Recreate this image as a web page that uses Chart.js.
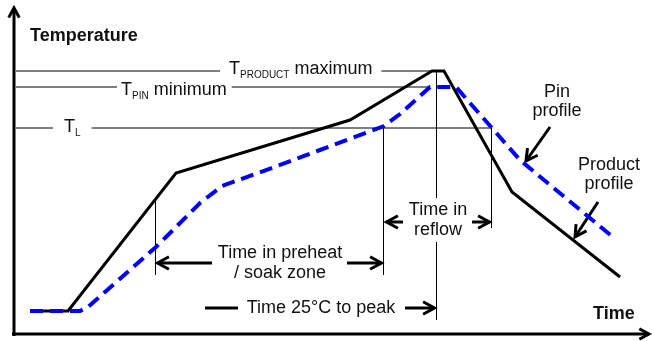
<!DOCTYPE html>
<html>
<head>
<meta charset="utf-8">
<script src="https://cdn.jsdelivr.net/npm/chart.js@4.4.0/dist/chart.umd.min.js"></script>
<style>
  body { margin: 0; background: #fff; }
  canvas { display: block; }
</style>
</head>
<body>
<canvas id="chart" width="652" height="341"></canvas>
<script>
// product profile (time, temperature)
const productTime = [8, 27, 81, 168, 209, 215, 249, 303];
const productTemp = [25, 25, 163, 216, 265, 265, 144, 59];

// pin profile (time, temperature)
const pinTime = [8, 33, 37, 71, 93, 104, 122, 153, 185, 193, 208, 221, 253, 300];
const pinTemp = [25, 25, 29, 89, 133, 150, 163, 186, 210, 222, 249, 249, 176, 98];

// reference temperatures
const tProductMax = 265;
const tPinMin = 249;
const tLiquidus = 208;

// zone boundaries (time)
const preheatStart = 70.5;
const preheatEnd = 184.5;
const peakTime = 211;
const reflowEnd = 238.5;

const FONT = "'Liberation Sans', Arial, sans-serif";

function toPoints(xs, ys) {
  return xs.map((t, i) => ({ x: t, y: ys[i] }));
}

// temperature of a profile at a given time
function interp(xs, ys, t) {
  for (let i = 1; i < xs.length; i++) {
    if (t <= xs[i]) {
      const f = (t - xs[i - 1]) / (xs[i] - xs[i - 1]);
      return ys[i - 1] + f * (ys[i] - ys[i - 1]);
    }
  }
  return ys[ys.length - 1];
}

function line(ctx, x1, y1, x2, y2, w) {
  ctx.lineWidth = w;
  ctx.beginPath();
  ctx.moveTo(x1, y1);
  ctx.lineTo(x2, y2);
  ctx.stroke();
}

function arrow(ctx, x1, y1, x2, y2, w = 3, len = 13, spread = 0.5) {
  line(ctx, x1, y1, x2, y2, w);
  const a = Math.atan2(y2 - y1, x2 - x1);
  ctx.lineWidth = w;
  ctx.beginPath();
  ctx.moveTo(x2 - len * Math.cos(a - spread), y2 - len * Math.sin(a - spread));
  ctx.lineTo(x2, y2);
  ctx.lineTo(x2 - len * Math.cos(a + spread), y2 - len * Math.sin(a + spread));
  ctx.stroke();
}

// "T" with subscript, returns end x
function tLabel(ctx, x, base, sub, rest) {
  ctx.textAlign = "left";
  ctx.font = "18px " + FONT;
  ctx.fillText("T", x, base);
  let cx = x + ctx.measureText("T").width;
  ctx.font = "10px " + FONT;
  ctx.fillText(sub, cx, base + 4);
  cx += ctx.measureText(sub).width;
  if (rest) {
    ctx.font = "18px " + FONT;
    ctx.fillText(rest, cx, base);
    cx += ctx.measureText(rest).width;
  }
  return cx;
}

const annotations = {
  id: "annotations",
  beforeDatasetsDraw(chart) {
    const { ctx, scales: { x, y }, chartArea } = chart;
    const x0 = chartArea.left;
    const yb = chartArea.bottom;
    ctx.save();
    ctx.strokeStyle = "#000";
    ctx.fillStyle = "#111";
    ctx.lineCap = "butt";

    // axes
    arrow(ctx, x0, yb + 2, x0, 8, 3, 11, 0.5);
    arrow(ctx, x0 - 2, yb, 649, yb, 3, 11, 0.5);

    // horizontal reference lines with labels
    const yMax = y.getPixelForValue(tProductMax);
    let end = tLabel(ctx, 229, yMax + 3, "PRODUCT", " maximum");
    line(ctx, x0 + 2, yMax, 220, yMax, 1);
    line(ctx, end + 9, yMax, x.getPixelForValue(productTime[4]), yMax, 1);

    const yPin = y.getPixelForValue(tPinMin);
    end = tLabel(ctx, 121, yPin + 8, "PIN", " minimum");
    line(ctx, x0 + 2, yPin, 117, yPin, 1);
    line(ctx, end + 5, yPin, x.getPixelForValue(pinTime[10]), yPin, 1);

    const yL = y.getPixelForValue(tLiquidus);
    end = tLabel(ctx, 64, yL + 4, "L", "");
    line(ctx, x0 + 2, yL, 53, yL, 1);
    line(ctx, end + 11, yL, x.getPixelForValue(reflowEnd), yL, 1);

    // vertical zone markers
    const xPs = Math.round(x.getPixelForValue(preheatStart)) + 0.5;
    const xPe = Math.round(x.getPixelForValue(preheatEnd)) + 0.5;
    const xPk = Math.round(x.getPixelForValue(peakTime)) + 0.5;
    const xRe = Math.round(x.getPixelForValue(reflowEnd)) + 0.5;
    const yPreheat = 263, yReflow = 222, yPeak = 308;
    line(ctx, xPs, y.getPixelForValue(interp(productTime, productTemp, preheatStart)), xPs, yPreheat + 12, 1);
    line(ctx, xPe, yL, xPe, yPreheat + 12, 1);
    line(ctx, xPk, yMax, xPk, yReflow - 24, 1);
    line(ctx, xPk, yReflow + 20, xPk, yPeak + 12, 1);
    line(ctx, xRe, yL, xRe, yReflow + 6, 1);

    // zone arrows
    arrow(ctx, 212, yPreheat, xPs + 2, yPreheat);
    arrow(ctx, 347, yPreheat, xPe - 2, yPreheat);
    arrow(ctx, 403, yReflow, xPe + 3, yReflow);
    arrow(ctx, 472, yReflow, xRe - 2, yReflow);
    line(ctx, 205, yPeak, 238, yPeak, 3);
    arrow(ctx, 405, yPeak, xPk - 2, yPeak);

    // callout arrows
    arrow(ctx, 550, 127, 526, 161);
    arrow(ctx, 598, 202, 575, 237);

    // texts
    ctx.font = "18px " + FONT;
    ctx.textAlign = "center";
    ctx.fillText("Time in preheat", 280, 258);
    ctx.fillText("/ soak zone", 280, 278);
    ctx.fillText("Time 25°C to peak", 321, 313);
    ctx.fillText("Time in", 438, 215);
    ctx.fillText("reflow", 438, 235);
    ctx.fillText("Pin", 557, 97);
    ctx.fillText("profile", 557, 116);
    ctx.fillText("Product", 609, 170);
    ctx.fillText("profile", 609, 189);

    ctx.font = "bold 18px " + FONT;
    ctx.textAlign = "left";
    ctx.fillText("Temperature", 30, 41);
    ctx.fillText("Time", 593, 319);
    ctx.restore();
  },
};

new Chart(document.getElementById("chart"), {
  type: "scatter",
  data: {
    datasets: [
      {
        label: "Pin profile",
        data: toPoints(pinTime, pinTemp),
        showLine: true,
        borderColor: "#0000ff",
        borderWidth: 4,
        borderDash: [13, 7],
        pointRadius: 0,
        tension: 0,
        order: 0,
      },
      {
        label: "Product profile",
        data: toPoints(productTime, productTemp),
        showLine: true,
        borderColor: "#000",
        borderWidth: 3,
        pointRadius: 0,
        tension: 0,
        order: 1,
      },
    ],
  },
  options: {
    responsive: false,
    animation: false,
    layout: { padding: { left: 14, top: 12, right: 4, bottom: 7 } },
    scales: {
      x: { type: "linear", min: 0, max: 317, display: false },
      y: { type: "linear", min: 2, max: 324, display: false },
    },
    plugins: {
      legend: { display: false },
      tooltip: { enabled: false },
    },
  },
  plugins: [annotations],
});
</script>
</body>
</html>
